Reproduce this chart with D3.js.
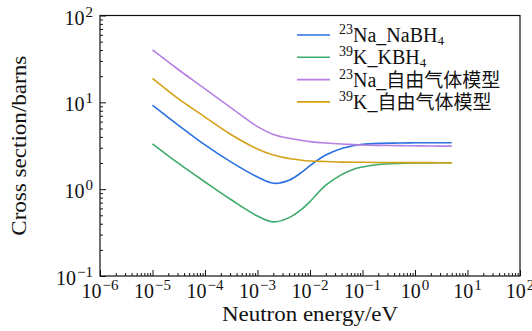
<!DOCTYPE html>
<html>
<head>
<meta charset="utf-8">
<script src="https://cdn.jsdelivr.net/npm/d3@7"></script>
<style>
  body { margin: 0; background: #fff; }
  text { font-family: "Liberation Serif", "Noto Sans CJK SC", serif; fill: #111; }
</style>
</head>
<body>
<svg id="chart" width="532" height="331"></svg>
<script>
// neutron energy (eV) and cross sections (barns)
const energy = [1e-5, 3e-5, 1e-4, 3e-4, 1e-3, 2e-3, 4e-3, 7e-3, 1e-2, 2e-2, 4e-2, 7e-2, 0.1, 0.2, 0.5, 1, 2, 5];
const naNaBH4 = [9.31, 5.55, 3.24, 2.09, 1.38, 1.17, 1.27, 1.57, 1.87, 2.47, 2.94, 3.18, 3.29, 3.37, 3.40, 3.42, 3.43, 3.43];
const kKBH4 = [3.33, 2.02, 1.21, 0.77, 0.49, 0.42, 0.47, 0.59, 0.72, 1.11, 1.47, 1.71, 1.80, 1.92, 1.98, 2.00, 2.01, 2.01];
const naFreeGas = [40.1, 24.2, 14.3, 8.81, 5.25, 4.27, 3.85, 3.63, 3.53, 3.40, 3.31, 3.26, 3.22, 3.19, 3.17, 3.16, 3.14, 3.13];
const kFreeGas = [18.9, 11.2, 6.77, 4.32, 2.90, 2.47, 2.25, 2.15, 2.11, 2.08, 2.05, 2.04, 2.04, 2.03, 2.02, 2.02, 2.02, 2.01];

const xTickExp = [-6, -5, -4, -3, -2, -1, 0, 1, 2];
const yTickExp = [-1, 0, 1, 2];

// legend entries: [superscript, latin part, subscript, chinese part]
const series = [
  { name: ['23', 'Na_NaBH', '4', ''], values: naNaBH4, color: '#2a71e2' },
  { name: ['39', 'K_KBH', '4', ''], values: kKBH4, color: '#3dab6b' },
  { name: ['23', 'Na_', '', '自由气体模型'], values: naFreeGas, color: '#b77fe3' },
  { name: ['39', 'K_', '', '自由气体模型'], values: kFreeGas, color: '#d4a116' }
];

const W = 532, H = 331;
const margin = { top: 15.5, right: 12, bottom: 55, left: 100 };
const svg = d3.select('#chart');

const x = d3.scaleLog()
  .domain([1e-6, 1e2])
  .range([margin.left, W - margin.right]);

const y = d3.scaleLog()
  .domain([1e-1, 1e2])
  .range([H - margin.bottom, margin.top]);

// minor ticks 2..9 in each decade
function minors(lo, hi) {
  const out = [];
  for (let e = lo; e < hi; e++) {
    for (let m = 2; m <= 9; m++) out.push(m * Math.pow(10, e));
  }
  return out;
}

const gx = svg.append('g').attr('transform', `translate(0,${H - margin.bottom})`);
gx.call(d3.axisBottom(x).tickValues(minors(-6, 2)).tickSize(-3).tickFormat(''));
gx.append('g').call(d3.axisBottom(x).tickValues(xTickExp.map(e => Math.pow(10, e))).tickSize(-6).tickFormat(''));

const gy = svg.append('g').attr('transform', `translate(${margin.left},0)`);
gy.call(d3.axisLeft(y).tickValues(minors(-1, 2)).tickSize(-3).tickFormat(''));
gy.append('g').call(d3.axisLeft(y).tickValues(yTickExp.map(e => Math.pow(10, e))).tickSize(-6).tickFormat(''));

svg.selectAll('.domain').remove();
svg.selectAll('.tick line').attr('stroke', '#111').attr('stroke-width', 1);

// power-of-ten labels
function powLabel(sel, exp) {
  sel.append('tspan').text('10');
  sel.append('tspan')
    .attr('dy', -8)
    .attr('dx', 1)
    .attr('font-size', 15)
    .text(exp < 0 ? '\u2212' + (-exp) : String(exp));
}

xTickExp.forEach(e => {
  svg.append('text')
    .attr('x', x(Math.pow(10, e)))
    .attr('y', H - margin.bottom + 22)
    .attr('text-anchor', 'middle')
    .attr('font-size', 20)
    .call(powLabel, e);
});

yTickExp.forEach(e => {
  svg.append('text')
    .attr('x', 93)
    .attr('y', y(Math.pow(10, e)) + 9)
    .attr('text-anchor', 'end')
    .attr('font-size', 20)
    .call(powLabel, e);
});

// curves
const line = d3.line()
  .x((d, i) => x(energy[i]))
  .y(d => y(d))
  .curve(d3.curveCatmullRom.alpha(0.5));

series.forEach(s => {
  svg.append('path')
    .attr('d', line(s.values))
    .attr('fill', 'none')
    .attr('stroke', s.color)
    .attr('stroke-width', 1.6);
});

// frame
svg.append('rect')
  .attr('x', margin.left)
  .attr('y', margin.top)
  .attr('width', W - margin.left - margin.right)
  .attr('height', H - margin.top - margin.bottom)
  .attr('fill', 'none')
  .attr('stroke', '#111')
  .attr('stroke-width', 1.2);

// axis titles
svg.append('text')
  .attr('x', (margin.left + W - margin.right) / 2)
  .attr('y', 321)
  .attr('text-anchor', 'middle')
  .attr('font-size', 20)
  .attr('textLength', 176)
  .attr('lengthAdjust', 'spacingAndGlyphs')
  .text('Neutron energy/eV');

svg.append('text')
  .attr('transform', `translate(26,${(margin.top + H - margin.bottom) / 2}) rotate(-90)`)
  .attr('text-anchor', 'middle')
  .attr('font-size', 20)
  .attr('textLength', 180)
  .attr('lengthAdjust', 'spacingAndGlyphs')
  .text('Cross section/barns');

// legend
const legend = svg.append('g').attr('transform', 'translate(297,35)');
series.forEach((s, i) => {
  const row = legend.append('g').attr('transform', `translate(0,${i * 22.3})`);
  row.append('line')
    .attr('x1', 0).attr('x2', 33)
    .attr('stroke', s.color)
    .attr('stroke-width', 1.6);
  const t = row.append('text')
    .attr('x', 42)
    .attr('y', 7)
    .attr('font-size', 20);
  t.append('tspan').attr('dy', -8).attr('font-size', 14).text(s.name[0]);
  t.append('tspan').attr('dy', 8).text(s.name[1]);
  if (s.name[2]) t.append('tspan').attr('dy', 3).attr('font-size', 13).text(s.name[2]);
  if (s.name[3]) t.append('tspan').attr('font-size', 19).text(s.name[3]);
});
</script>
</body>
</html>
